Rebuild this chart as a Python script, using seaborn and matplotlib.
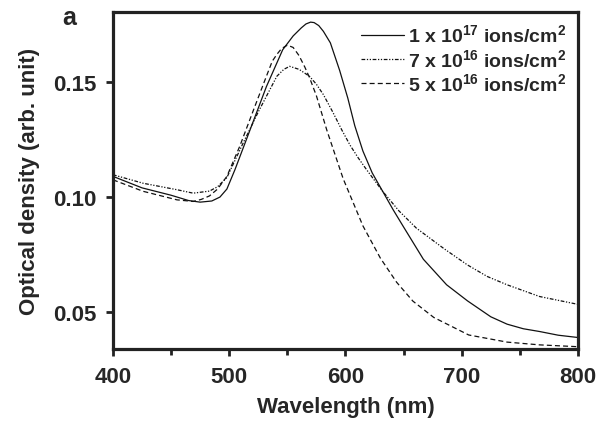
import numpy as np
import pandas as pd
import matplotlib
matplotlib.use("Agg")
import matplotlib.pyplot as plt
import seaborn as sns
from matplotlib.ticker import MultipleLocator

# ---- data ----
series_labels = ["1 x 10$^{17}$ ions/cm$^{2}$",
                 "7 x 10$^{16}$ ions/cm$^{2}$",
                 "5 x 10$^{16}$ ions/cm$^{2}$"]

wl_1e17 = [400, 425, 450, 465, 475, 485, 492, 498, 505, 518, 532, 546, 555, 562,
           566, 570, 573, 577, 581, 587, 595, 602, 608, 615, 623, 632, 641, 650,
           667, 687, 705, 725, 739, 753, 767, 783, 800]
od_1e17 = [0.1090, 0.1040, 0.1008, 0.0985, 0.0978, 0.0983, 0.1000, 0.1035, 0.1120,
           0.1293, 0.1480, 0.1640, 0.1700, 0.1735, 0.1752, 0.1760, 0.1758, 0.1745,
           0.1720, 0.1670, 0.1550, 0.1430, 0.1310, 0.1200, 0.1105, 0.1025, 0.0945,
           0.0870, 0.0730, 0.0619, 0.0549, 0.0480, 0.0448, 0.0428, 0.0416, 0.0400,
           0.0390]

wl_7e16 = [400, 426, 455, 469, 483, 490, 498, 512, 525, 535, 541, 547, 552, 560,
           569, 575, 581, 589, 597, 604, 611, 618, 632, 646, 661, 685, 705, 722,
           739, 767, 800]
od_7e16 = [0.1097, 0.1060, 0.1032, 0.1017, 0.1026, 0.1045, 0.1085, 0.1235, 0.1370,
           0.1467, 0.1525, 0.1555, 0.1568, 0.1555, 0.1525, 0.1490, 0.1445, 0.1370,
           0.1290, 0.1225, 0.1170, 0.1120, 0.1025, 0.0940, 0.0865, 0.0775, 0.0705,
           0.0655, 0.0619, 0.0568, 0.0534]

wl_5e16 = [400, 426, 455, 469, 476, 483, 490, 498, 509, 521, 532, 537, 541, 545,
           550, 555, 560, 565, 569, 575, 584, 598, 615, 630, 644, 658, 676, 706,
           739, 767, 800]
od_5e16 = [0.1075, 0.1025, 0.0988, 0.0981, 0.0990, 0.1005, 0.1035, 0.1090, 0.1220,
           0.1380, 0.1525, 0.1590, 0.1620, 0.1645, 0.1660, 0.1650, 0.1615, 0.1565,
           0.1520, 0.1440, 0.1290, 0.1080, 0.0875, 0.0735, 0.0630, 0.0548, 0.0477,
           0.0401, 0.0370, 0.0358, 0.0350]

x_ticks = [400, 500, 600, 700, 800]
y_ticks = [0.05, 0.10, 0.15]

df = pd.concat([
    pd.DataFrame({"wl": wl_1e17, "od": od_1e17, "dose": series_labels[0]}),
    pd.DataFrame({"wl": wl_7e16, "od": od_7e16, "dose": series_labels[1]}),
    pd.DataFrame({"wl": wl_5e16, "od": od_5e16, "dose": series_labels[2]}),
], ignore_index=True)

# ---- style ----
sns.set_style("ticks")
plt.rcParams["font.family"] = ["Liberation Sans", "DejaVu Sans"]
plt.rcParams["font.weight"] = "bold"
plt.rcParams["mathtext.fontset"] = "custom"
plt.rcParams["mathtext.bf"] = "Liberation Sans:bold"
plt.rcParams["mathtext.rm"] = "Liberation Sans:bold"
plt.rcParams["mathtext.default"] = "bf"

fig = plt.figure(figsize=(6.10, 4.39), dpi=100)
ax = fig.add_axes([0.1852, 0.2027, 0.7623, 0.7677])

dash_map = {series_labels[0]: "",
            series_labels[1]: (3, 1.3, 1, 1.3, 1, 1.3),
            series_labels[2]: (4, 2.5)}
sns.lineplot(data=df, x="wl", y="od", hue="dose", style="dose",
             palette=["#111111"] * 3, dashes=dash_map, linewidth=0.9,
             sort=False, estimator=None, ax=ax)

ax.set_xlim(400, 800)
ax.set_ylim(0.034, 0.1804)
ax.set_xticks(x_ticks)
ax.set_yticks(y_ticks)
ax.set_yticklabels([f"{v:.2f}" for v in y_ticks])
ax.xaxis.set_minor_locator(MultipleLocator(50))

for s in ax.spines.values():
    s.set_linewidth(2.3)
    s.set_color("#222222")
    s.set_visible(True)

ax.tick_params(axis="both", which="major", direction="out", length=5, width=2,
               color="#222222", labelsize=16, pad=7)
ax.tick_params(axis="x", which="minor", direction="out", length=4, width=2,
               color="#222222")
for lab in ax.get_xticklabels() + ax.get_yticklabels():
    lab.set_fontweight("bold")

ax.set_xlabel("Wavelength (nm)", fontsize=16, fontweight="bold", labelpad=7)
ax.set_ylabel("Optical density (arb. unit)", fontsize=16, fontweight="bold",
              labelpad=9)

leg = ax.legend(loc="upper right", bbox_to_anchor=(1.0, 1.0), frameon=False,
                fontsize=14, handlelength=2.2, handletextpad=0.2,
                labelspacing=0.12, borderaxespad=0.2)
for t in leg.get_texts():
    t.set_fontweight("bold")

fig.text(0.102, 0.96, "a", fontsize=18, fontweight="bold", ha="left", va="center")

fig.savefig("out.png", dpi=100)
